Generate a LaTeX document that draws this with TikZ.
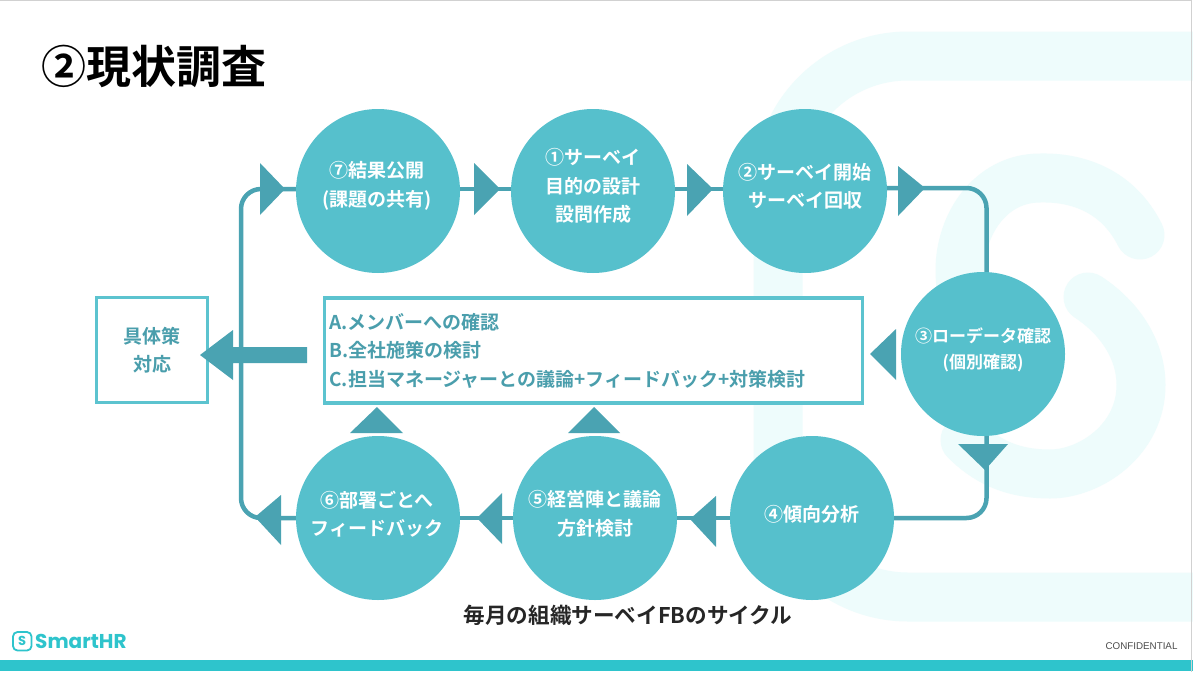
\documentclass[tikz,border=0pt]{standalone}
\usepackage{fontspec}
\setmainfont{Noto Sans CJK JP}
\newfontfamily\cjkb{Noto Sans CJK JP Bold}
\newfontfamily\lat{Liberation Sans}
\newfontfamily\logofont{Poppins}
\definecolor{circ}{HTML}{56C0CC}
\definecolor{arr}{HTML}{4AA3B2}
\definecolor{boxl}{HTML}{5CC3CF}
\definecolor{boxt}{HTML}{4A9EAC}
\definecolor{pale}{HTML}{EEFCFC}
\definecolor{bar}{HTML}{2EC4CC}
\tikzset{
  x=1pt,y=-1pt,
  stepnode/.style={circle,fill=circ,minimum size=164pt,inner sep=0pt},
  steptext/.style={text=white,align=center,font=\cjkb\fontsize{19}{28.5}\selectfont},
  conn/.style={draw=arr,line width=4.5pt,rounded corners=20pt},
  straight/.style={draw=arr,line width=4.5pt},
  tri/.style={fill=arr,draw=none},
  palestroke/.style={draw=pale,line width=49pt,line cap=round},
  framed/.style={draw=boxl,line width=3.5pt,fill=white,text=boxt,font=\cjkb\fontsize{19}{28.5}\selectfont,inner sep=0pt}
}
\begin{document}
\begin{tikzpicture}
\useasboundingbox (0,0) rectangle (1193,672);
\fill[white] (0,0) rectangle (1193,672);
% background logo
\draw[draw=pale,line width=49pt,rounded corners=130pt] (1193,56) -- (778,56) -- (778,597) -- (1193,597);
\draw[palestroke] (1140,235) .. controls (1110,175) and (1050,178) .. (1040,178) .. controls (990,178) and (960,225) .. (960,270) .. controls (960,320) and (985,340) .. (1000,350);
\draw[palestroke] (1088,297) .. controls (1120,318) and (1141,350) .. (1141,385) .. controls (1141,440) and (1090,474) .. (1050,474) .. controls (1010,474) and (985,460) .. (965,440);
% step circles
\node[stepnode] (s7) at (378,191) {};
\node[stepnode] (s1) at (593,191) {};
\node[stepnode] (s2) at (805,191) {};
\node[stepnode] (s3) at (983,354) {};
\node[stepnode] (s4) at (812,518) {};
\node[stepnode] (s5) at (595,518) {};
\node[stepnode] (s6) at (378,518) {};
% connectors
\coordinate (tl) at (241,189);
\coordinate (tr) at (986.5,188);
\coordinate (br) at (986.5,518);
\coordinate (bl) at (241,518);
\draw[conn] (s2.east |- tr) -- (tr) -- (tr |- s3.north);
\draw[conn] (br |- s3.south) -- (br) -- (s4.east);
\draw[conn] (s6.west) -- (bl) -- (tl) -- (s7.west |- tl);
\draw[straight] (s7.east |- tl) -- (s1.west |- tl);
\draw[straight] (s1.east |- tl) -- (s2.west |- tl);
\draw[straight] (s4.west) -- (s5.east);
\draw[straight] (s5.west) -- (s6.east);
% arrowheads
\fill[tri] (260,163) -- (285,189) -- (260,215) -- cycle;
\fill[tri] (474,163) -- (500,189) -- (474,215) -- cycle;
\fill[tri] (687,164) -- (713,189) -- (687,216) -- cycle;
\fill[tri] (898,166) -- (925,188) -- (898,216) -- cycle;
\fill[tri] (896,329) -- (870,354) -- (896,380) -- cycle;
\fill[tri] (958,444) -- (1008,444) -- (985,470) -- cycle;
\fill[tri] (716,496) -- (690,519) -- (716,547) -- cycle;
\fill[tri] (502,493) -- (477,518) -- (502,544) -- cycle;
\fill[tri] (281,495) -- (255,517) -- (281,545) -- cycle;
\fill[tri] (350,433) -- (377,407) -- (403,433) -- cycle;
\fill[tri] (568,433) -- (594,407) -- (620,433) -- cycle;
% boxes
\node[framed,minimum width=111pt,minimum height=105pt,align=center] (act) at (152,350) {具体策\\対応};
\node[framed,minimum width=538pt,minimum height=105pt,align=left,text width=528pt,inner xsep=5pt] (mid) at (593.5,350.5) {A.メンバーへの確認\\B.全社施策の検討\\C.担当マネージャーとの議論+フィードバック+対策検討};
\fill[arr] (307,347) -- (233,347) -- (233,330) -- (200,355) -- (233,380) -- (233,363) -- (307,363) -- cycle;
% labels
\node[steptext] (l7) at (377,186) {⑦結果公開\\(課題の共有)};
\node[steptext] (l1) at (593,186) {①サーベイ\\目的の設計\\設問作成};
\node[steptext] (l2) at (805,186) {②サーベイ開始\\サーベイ回収};
\node[steptext,font=\cjkb\fontsize{17}{25.5}\selectfont] (l3) at (983,350) {③ローデータ確認\\(個別確認)};
\node[steptext] (l4) at (812,514) {④傾向分析};
\node[steptext] (l5) at (595,514) {⑤経営陣と議論\\方針検討};
\node[steptext] (l6) at (377,514) {⑥部署ごとへ\\フィードバック};
% title etc
\node[anchor=west,text=black,font=\cjkb\fontsize{45}{52}\selectfont] (title) at (38,66) {②現状調査};
\node[text=black!85,font=\cjkb\fontsize{21.6}{26}\selectfont] (cap) at (628,615) {毎月の組織サーベイFBのサイクル};
\node[anchor=east,text=black!70,font=\lat\fontsize{9.8}{11}\selectfont] (conf) at (1181,646.5) {CONFIDENTIAL};
% footer
\fill[bar] (0,660) rectangle (1193,671);
\draw[black!18,line width=1pt] (0,0.5) -- (1191.5,0.5) -- (1191.5,672);
% logo
\draw[bar,line width=1.8pt,rounded corners=4.5pt] (13,632) rectangle (31.5,650.5);
\node[text=bar,font=\logofont\bfseries\fontsize{13}{13}\selectfont,inner sep=0pt] (sg) at (22.2,641) {S};
\node[anchor=west,text=bar,inner sep=0pt,font=\logofont\bfseries\fontsize{20}{20}\selectfont] (logo) at (35,641) {SmartHR};
\end{tikzpicture}
\end{document}
